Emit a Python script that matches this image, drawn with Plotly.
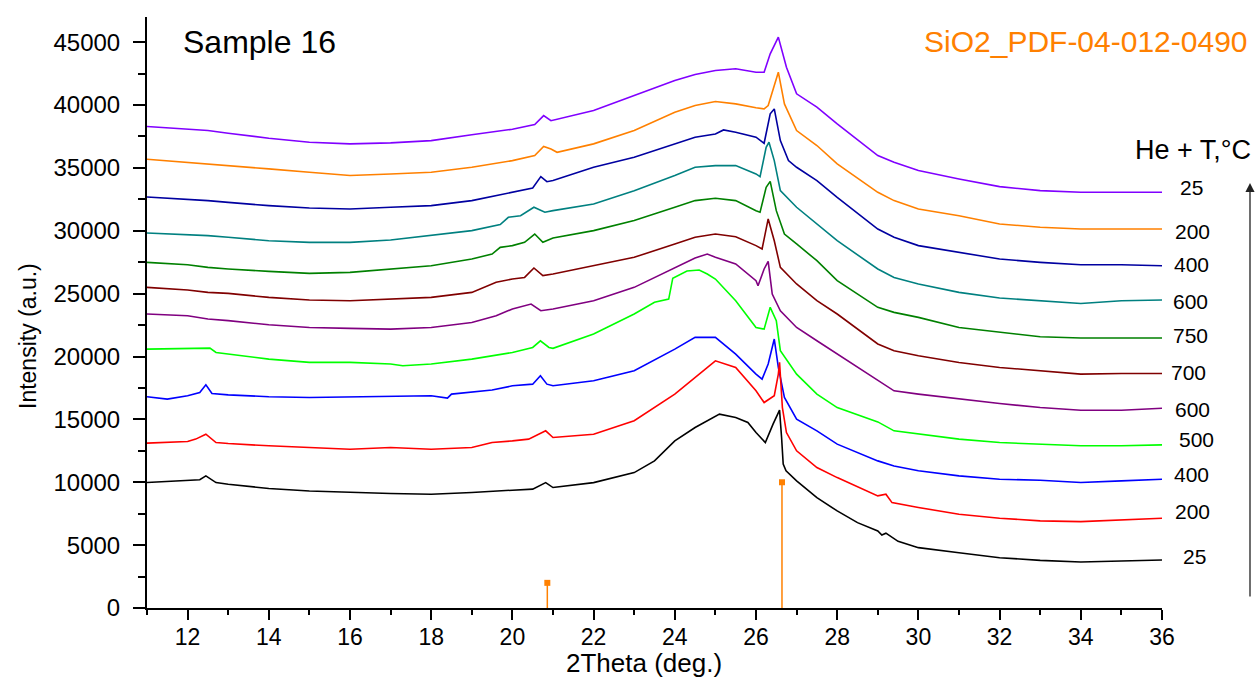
import plotly.graph_objects as go

# ---------------- data ----------------
# Curves, top to bottom
x_t25a = [11, 12, 12.5, 13, 14, 15, 16, 17, 18, 19, 20, 20.55, 20.77, 20.95, 22, 23, 24, 24.5, 25, 25.5, 26, 26.2, 26.35, 26.55, 26.75, 27, 27.5, 28, 29, 29.4, 30, 31, 32, 33, 34, 35, 36]
y_t25a = [38290, 38075, 37970, 37760, 37360, 37040, 36910, 36990, 37170, 37630, 38075, 38450, 39160, 38750, 39560, 40760, 41950, 42430, 42750, 42880, 42610, 42610, 44070, 45400, 43010, 40890, 39830, 38500, 35980, 35450, 34790, 34120, 33510, 33190, 33060, 33060, 33060]

x_t200a = [11, 12, 12.5, 13, 14, 15, 16, 17, 18, 19, 20, 20.55, 20.77, 20.95, 21.1, 22, 23, 24, 24.5, 25, 25.5, 26, 26.2, 26.3, 26.45, 26.55, 26.7, 27, 27.5, 28, 29, 29.4, 30, 31, 32, 33, 34, 35, 36]
y_t200a = [35690, 35450, 35320, 35180, 34920, 34650, 34390, 34520, 34650, 35050, 35580, 35980, 36700, 36500, 36240, 36910, 37970, 39430, 39960, 40280, 40090, 39780, 39690, 39960, 41680, 42610, 40090, 37970, 36780, 35320, 33060, 32400, 31730, 31200, 30540, 30280, 30140, 30140, 30140]

x_t400a = [11, 12, 12.5, 13, 14, 15, 16, 17, 18, 19, 20, 20.5, 20.7, 20.85, 21, 22, 23, 24, 24.5, 25, 25.2, 25.5, 26, 26.2, 26.35, 26.45, 26.6, 26.8, 27, 27.5, 28, 29, 29.4, 30, 31, 32, 33, 34, 35, 36]
y_t400a = [32690, 32530, 32400, 32260, 32000, 31810, 31730, 31870, 32000, 32400, 33060, 33400, 34310, 33900, 33990, 35050, 35850, 36910, 37440, 37700, 38020, 37840, 37440, 36960, 39300, 39690, 37170, 35580, 35050, 33990, 32660, 30140, 29480, 28820, 28280, 27750, 27490, 27300, 27300, 27220]

x_t600a = [11, 12, 12.5, 13, 14, 15, 16, 17, 18, 19, 19.7, 19.9, 20.2, 20.53, 20.8, 21, 22, 23, 24, 24.5, 25, 25.5, 26, 26.1, 26.25, 26.32, 26.45, 26.6, 27, 27.5, 28, 29, 29.4, 30, 31, 32, 33, 34, 35, 36]
y_t600a = [29820, 29690, 29610, 29480, 29210, 29080, 29080, 29270, 29610, 30010, 30490, 31070, 31200, 31870, 31470, 31600, 32130, 33190, 34390, 35050, 35180, 35180, 34520, 34310, 36640, 37040, 35580, 33190, 31870, 30540, 29210, 26960, 26290, 25770, 25100, 24650, 24440, 24220, 24440, 24490]

x_t750 = [11, 12, 12.5, 13, 14, 15, 16, 17, 18, 19, 19.5, 19.7, 20, 20.3, 20.55, 20.75, 21, 22, 23, 24, 24.5, 25, 25.5, 26, 26.1, 26.25, 26.35, 26.5, 26.7, 27, 27.5, 28, 29, 29.4, 30, 31, 32, 33, 34, 35, 36]
y_t750 = [27490, 27300, 27090, 26960, 26770, 26610, 26690, 26960, 27220, 27750, 28150, 28680, 28820, 29080, 29740, 29080, 29430, 30010, 30810, 31870, 32400, 32580, 32400, 31600, 31470, 33460, 33930, 31600, 29740, 28950, 27620, 26030, 23910, 23510, 23110, 22310, 21910, 21570, 21470, 21470, 21470]

x_t700 = [11, 12, 12.5, 13, 14, 15, 16, 17, 18, 19, 19.6, 20, 20.3, 20.53, 20.75, 21, 22, 23, 24, 24.5, 25, 25.5, 26, 26.15, 26.3, 26.45, 26.6, 27, 27.5, 28, 29, 29.4, 30, 31, 32, 33, 34, 35, 36]
y_t700 = [25500, 25290, 25100, 25020, 24700, 24490, 24440, 24570, 24700, 25100, 25900, 26160, 26290, 27040, 26430, 26560, 27220, 27890, 28950, 29480, 29740, 29530, 28820, 28550, 30940, 29210, 27090, 25770, 24440, 23380, 21000, 20460, 20060, 19530, 19130, 18870, 18600, 18650, 18650]

x_t600b = [11, 12, 12.5, 13, 14, 15, 16, 17, 18, 19, 19.6, 20, 20.46, 20.7, 21, 22, 23, 24, 24.5, 24.8, 25, 25.5, 26, 26.05, 26.2, 26.3, 26.4, 26.6, 27, 27.5, 28, 29, 29.4, 30, 31, 32, 33, 34, 35, 36]
y_t600b = [23380, 23240, 22980, 22850, 22530, 22310, 22240, 22180, 22310, 22710, 23240, 23780, 24170, 23640, 23780, 24440, 25500, 27090, 27830, 28150, 27890, 27360, 26030, 25630, 26960, 27570, 24970, 23640, 22310, 21250, 20190, 18100, 17270, 17010, 16610, 16260, 15940, 15730, 15730, 15890]

x_t500 = [11, 12, 12.55, 12.7, 13, 14, 15, 16, 17, 17.3, 18, 19, 20, 20.5, 20.69, 20.9, 21, 22, 23, 23.5, 23.85, 23.95, 24.3, 24.6, 24.8, 25, 25.5, 26, 26.2, 26.35, 26.5, 26.6, 27, 27.5, 28, 29, 29.4, 30, 31, 32, 33, 34, 35, 36]
y_t500 = [20590, 20670, 20670, 20320, 20190, 19790, 19530, 19530, 19400, 19260, 19400, 19790, 20320, 20720, 21250, 20720, 20650, 21790, 23380, 24310, 24570, 26230, 26800, 26880, 26560, 26160, 24440, 22310, 22180, 23910, 22850, 20460, 18600, 17010, 15940, 14800, 14090, 13820, 13430, 13160, 13030, 12900, 12900, 12970]

x_t400b = [11, 11.5, 12, 12.3, 12.45, 12.6, 13, 14, 15, 16, 17, 18, 18.4, 18.5, 19.5, 20, 20.5, 20.69, 20.85, 21, 22, 23, 24, 24.5, 25, 25.5, 26, 26.15, 26.3, 26.45, 26.55, 26.7, 27, 27.5, 28, 29, 29.4, 30, 31, 32, 33, 34, 35, 36]
y_t400b = [16800, 16610, 16880, 17140, 17750, 17060, 16950, 16800, 16740, 16800, 16800, 16880, 16690, 17010, 17330, 17670, 17800, 18470, 17800, 17670, 18070, 18870, 20590, 21520, 21520, 20190, 18600, 18200, 19400, 21390, 19130, 16740, 15020, 14090, 13030, 11700, 11300, 10910, 10510, 10240, 10160, 9975, 10110, 10240]

x_t200b = [11, 12, 12.2, 12.45, 12.7, 13, 14, 15, 16, 17, 18, 19, 19.5, 20, 20.4, 20.82, 21, 22, 23, 24, 24.5, 25, 25.5, 26, 26.2, 26.45, 26.55, 26.58, 26.65, 26.75, 27, 27.5, 28, 29, 29.2, 29.35, 30, 31, 32, 33, 34, 35, 36]
y_t200b = [13110, 13240, 13430, 13820, 13160, 13080, 12900, 12760, 12630, 12760, 12630, 12760, 13160, 13290, 13430, 14090, 13560, 13820, 14890, 17010, 18330, 19660, 19130, 17270, 16340, 16880, 18600, 19530, 15940, 13950, 12500, 11170, 10370, 8915, 9050, 8380, 7990, 7460, 7140, 6930, 6870, 6980, 7140]

x_t25b = [11, 12, 12.3, 12.45, 12.7, 13, 14, 15, 16, 17, 18, 19, 20, 20.5, 20.82, 21, 22, 23, 23.5, 24, 24.5, 25.1, 25.5, 25.8, 26, 26.23, 26.42, 26.58, 26.63, 26.67, 26.74, 27, 27.5, 28, 28.5, 29, 29.1, 29.2, 29.5, 30, 31, 32, 33, 34, 35, 36]
y_t25b = [9975, 10110, 10200, 10510, 9975, 9845, 9500, 9310, 9180, 9100, 9050, 9180, 9370, 9450, 9975, 9580, 9970, 10770, 11700, 13290, 14350, 15420, 15150, 14750, 13950, 13160, 14620, 15740, 13560, 11440, 10910, 10110, 8780, 7720, 6790, 6130, 5800, 5950, 5300, 4800, 4400, 4000, 3790, 3660, 3740, 3820]

# Reference pattern SiO2 PDF-04-012-0490
ref_pos = [20.86, 26.64]
ref_int = [2000, 10000]

temps = ["25", "200", "400", "600", "750", "700", "600", "500", "400", "200", "25"]

# ---------------- styling / layout ----------------
colors = ["#8000FF", "#FF8000", "#0000A0", "#008080", "#008000", "#800000",
          "#800080", "#00FF00", "#0000FF", "#FF0000", "#000000"]
series = [(x_t25a, y_t25a), (x_t200a, y_t200a), (x_t400a, y_t400a), (x_t600a, y_t600a),
          (x_t750, y_t750), (x_t700, y_t700), (x_t600b, y_t600b), (x_t500, y_t500),
          (x_t400b, y_t400b), (x_t200b, y_t200b), (x_t25b, y_t25b)]
# label centres in pixels (x, y)
label_px = [(1191, 187), (1192, 231), (1191, 264), (1190, 301), (1190, 335), (1188, 372),
            (1192, 409), (1196, 439), (1191, 474), (1192, 511), (1194, 556)]

W_FIG, H_FIG = 1255, 680
L, R, T, B = 147, 1162, 17, 608
PW, PH = R - L, B - T

def pxx(px):
    return (px - L) / PW

def pyy(py):
    return (B - py) / PH

FONT = "Liberation Sans, Arial, sans-serif"

fig = go.Figure()
for (xs, ys), c in zip(series, colors):
    fig.add_trace(go.Scatter(x=xs, y=ys, mode="lines", line=dict(color=c, width=1.6),
                             showlegend=False, hoverinfo="skip"))

# stick pattern
sx, sy = [], []
for p, h in zip(ref_pos, ref_int):
    sx += [p, p, None]
    sy += [0, h, None]
fig.add_trace(go.Scatter(x=sx, y=sy, mode="lines", line=dict(color="#FF8000", width=1.5),
                         showlegend=False, hoverinfo="skip"))
fig.add_trace(go.Scatter(x=ref_pos, y=ref_int, mode="markers",
                         marker=dict(symbol="square", size=6, color="#FF8000"),
                         showlegend=False, hoverinfo="skip"))

ann = []
for t, (lx, ly) in zip(temps, label_px):
    ann.append(dict(text=t, x=pxx(lx), y=pyy(ly), xref="paper", yref="paper",
                    xanchor="center", yanchor="middle", showarrow=False,
                    font=dict(family=FONT, size=21, color="black")))
ann.append(dict(text="Sample 16", x=pxx(181), y=pyy(42), xref="paper", yref="paper",
                xanchor="left", yanchor="middle", showarrow=False,
                font=dict(family=FONT, size=32, color="black")))
ann.append(dict(text="SiO2_PDF-04-012-0490", x=pxx(1250), y=pyy(42), xref="paper", yref="paper",
                xanchor="right", yanchor="middle", showarrow=False,
                font=dict(family=FONT, size=30, color="#FF8000")))
ann.append(dict(text="He + T,°C", x=pxx(1253), y=pyy(150), xref="paper", yref="paper",
                xanchor="right", yanchor="middle", showarrow=False,
                font=dict(family=FONT, size=27, color="black")))
ann.append(dict(text="2Theta (deg.)", x=pxx(644), y=pyy(663), xref="paper", yref="paper",
                xanchor="center", yanchor="middle", showarrow=False,
                font=dict(family=FONT, size=26, color="black")))
ann.append(dict(text="Intensity (a.u.)", x=pxx(28), y=pyy(336), xref="paper", yref="paper",
                xanchor="center", yanchor="middle", showarrow=False, textangle=-90,
                font=dict(family=FONT, size=23, color="black")))
# arrow on the right
ann.append(dict(text="", x=pxx(1250), y=pyy(183), xref="paper", yref="paper",
                ax=0, ay=415, axref="pixel", ayref="pixel", showarrow=True,
                arrowhead=2, arrowsize=1.4, arrowwidth=1.3, arrowcolor="#222222"))

fig.update_layout(
    width=W_FIG, height=H_FIG,
    margin=dict(l=L, r=W_FIG - R, t=T, b=H_FIG - B, pad=0),
    paper_bgcolor="white", plot_bgcolor="white",
    annotations=ann,
    font=dict(family=FONT, color="black"),
)
fig.update_xaxes(range=[11, 36], tick0=12, dtick=2, showgrid=False, zeroline=False,
                 showline=True, linecolor="black", linewidth=2,
                 ticks="outside", ticklen=10, tickwidth=2, tickcolor="black",
                 minor=dict(tick0=11, dtick=1, ticks="outside", ticklen=5, tickwidth=2, tickcolor="black"),
                 ticklabelstandoff=-3,
                 tickfont=dict(family=FONT, size=23, color="black"))
fig.update_yaxes(range=[0, 47000], tick0=0, dtick=5000, tickformat="d", showgrid=False, zeroline=False,
                 showline=True, linecolor="black", linewidth=2,
                 ticks="outside", ticklen=12, tickwidth=2, tickcolor="black",
                 minor=dict(tick0=0, dtick=2500, ticks="outside", ticklen=7, tickwidth=2, tickcolor="black"),
                 ticklabelstandoff=8,
                 tickfont=dict(family=FONT, size=24, color="black"))

fig.write_html("out.html")
